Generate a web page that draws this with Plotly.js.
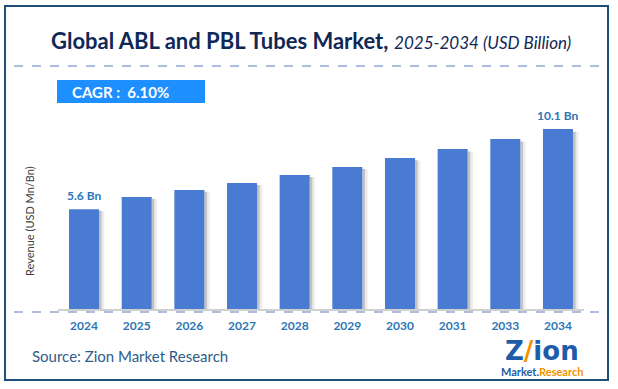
<!DOCTYPE html>
<html>
<head>
<meta charset="utf-8">
<script src="https://cdn.plot.ly/plotly-3.0.1.min.js"></script>
<style>html,body{margin:0;padding:0;background:#fff;}#chart{width:618px;height:389px;}</style>
</head>
<body>
<div id="chart"></div>
<script>
// Data
const years = ["2024","2025","2026","2027","2028","2029","2030","2031","2033","2034"];
const revenue = [5.6, 6.28, 6.68, 7.07, 7.52, 7.97, 8.47, 8.98, 9.54, 10.1];
const unit = " Bn";
const cagrText = "CAGR :  6.10%";
const titleMain = "Global ABL and PBL Tubes Market,";
const titleSub = "2025-2034 (USD Billion)";
const yTitle = "Revenue (USD Mn/Bn)";
const sourceText = "Source: Zion Market Research";

const W = 618, H = 389;
const px = x => x / W;
const py = y => 1 - y / H;
const font = "Lato, 'Open Sans', sans-serif";
const labelBlue = "#2E75B6";

const barTrace = {
  type: "bar", x: years, y: revenue,
  width: 0.57, offset: -0.285,
  marker: {color: "#4A7BD3", line: {width: 0}},
  hoverinfo: "x+y"
};
const shadow1 = {
  type: "bar", x: years, y: revenue.map(v => v * 0.985),
  width: 0.05, offset: 0.285,
  marker: {color: "rgba(120,120,120,0.45)", line: {width: 0}},
  hoverinfo: "skip"
};
const shadow2 = {
  type: "bar", x: years, y: revenue.map(v => v * 0.985),
  width: 0.05, offset: 0.335,
  marker: {color: "rgba(160,160,160,0.2)", line: {width: 0}},
  hoverinfo: "skip"
};

const yTop = 11.73;
const last = years.length - 1;
const annotations = [
  {xref: "paper", yref: "paper", x: px(311), y: py(40), xanchor: "center", yanchor: "middle", showarrow: false,
   text: "<b>" + titleMain + "</b> <i><span style='font-size:17px'>" + titleSub + "</span></i>",
   font: {family: font, size: 22, color: "#0F2856"}},
  {xref: "paper", yref: "paper", x: px(70), y: py(92), xanchor: "left", yanchor: "middle", showarrow: false,
   text: "<b>" + cagrText + "</b>", font: {family: font, size: 15, color: "#ffffff"}},
  {xref: "paper", yref: "paper", x: px(30), y: py(221), xanchor: "center", yanchor: "middle", showarrow: false,
   textangle: -90, text: yTitle, font: {family: font, size: 11, color: "#404040"}},
  {xref: "x", yref: "y", x: 0, y: revenue[0], yanchor: "bottom", showarrow: false, yshift: 4,
   text: "<b>" + revenue[0].toFixed(1) + unit + "</b>", font: {family: font, size: 12, color: labelBlue}},
  {xref: "x", yref: "y", x: last, y: revenue[last], yanchor: "bottom", showarrow: false, yshift: 4,
   text: "<b>" + revenue[last].toFixed(1) + unit + "</b>", font: {family: font, size: 12, color: labelBlue}},
  {xref: "paper", yref: "paper", x: px(30), y: py(356), xanchor: "left", yanchor: "middle", showarrow: false,
   text: sourceText, font: {family: font, size: 15, color: "#2E5C8A"}},
  {xref: "paper", yref: "paper", x: px(542), y: py(351), xanchor: "center", yanchor: "middle", showarrow: false,
   text: "<b>Z<span style='color:#F39200'>/</span>ion</b>", font: {family: "'DejaVu Sans', sans-serif", size: 26, color: "#1D5CA8"}},
  {xref: "paper", yref: "paper", x: px(542), y: py(371), xanchor: "center", yanchor: "middle", showarrow: false,
   text: "<b>Market.<span style='color:#F39200'>Research</span></b>", font: {family: font, size: 11, color: "#1D5CA8"}}
];

const shapes = [
  {type: "rect", xref: "paper", yref: "paper", x0: px(5), x1: px(608), y0: py(6), y1: py(380),
   line: {color: "#1F4E79", width: 2}},
  {type: "line", xref: "paper", yref: "paper", x0: px(14), x1: px(601), y0: py(66), y1: py(66),
   line: {color: "#5B7DBE", width: 1.2, dash: "dash"}},
  {type: "line", xref: "paper", yref: "paper", x0: px(14), x1: px(601), y0: py(312), y1: py(312),
   line: {color: "#5B7DBE", width: 1.2, dash: "dash"}},
  {type: "rect", xref: "paper", yref: "paper", x0: px(57), x1: px(205), y0: py(80), y1: py(103),
   fillcolor: "#1E8FFF", line: {width: 0}, layer: "below"}
];

const layout = {
  width: W, height: H,
  margin: {l: 0, r: 0, t: 0, b: 0},
  paper_bgcolor: "#ffffff", plot_bgcolor: "rgba(0,0,0,0)",
  showlegend: false, barmode: "overlay",
  xaxis: {
    type: "category", categoryorder: "array", categoryarray: years,
    domain: [px(57.7), px(584.3)], range: [-0.5, years.length - 0.5], autorange: false,
    showline: true, linecolor: "#D0D0D0", linewidth: 1.5,
    showgrid: false, zeroline: false,
    ticks: "outside", ticklen: 5, tickcolor: "rgba(0,0,0,0)",
    tickfont: {family: font, size: 12, color: labelBlue, weight: "bold"}
  },
  yaxis: {
    domain: [py(309), py(100)], range: [0, yTop], autorange: false, visible: false, fixedrange: true
  },
  annotations: annotations,
  shapes: shapes
};

Plotly.newPlot("chart", [shadow2, shadow1, barTrace], layout, {displayModeBar: false, staticPlot: true});
</script>
</body>
</html>
